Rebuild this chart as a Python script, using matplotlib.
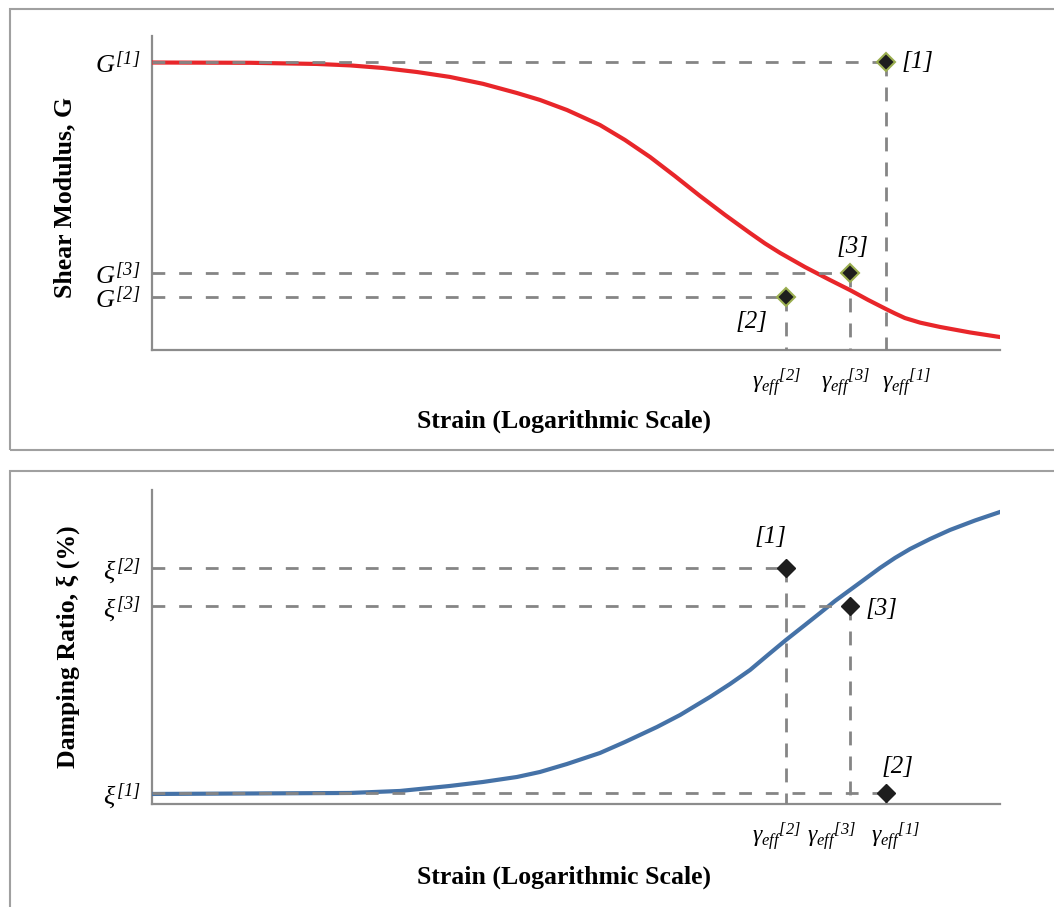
"""Shear modulus reduction and damping ratio curves with effective strain iterations."""

import matplotlib.pyplot as plt
from matplotlib.patches import Rectangle

plt.rcParams['font.family'] = 'serif'
plt.rcParams['font.serif'] = ['Liberation Serif']
plt.rcParams['mathtext.fontset'] = 'custom'
plt.rcParams['mathtext.rm'] = 'Liberation Serif:italic'
plt.rcParams['mathtext.it'] = 'Liberation Serif:italic'
plt.rcParams['mathtext.bf'] = 'Liberation Serif:bold'

COLOR_G = '#e8262a'
COLOR_XI = '#4572a7'
COLOR_GUIDE = '#858585'
COLOR_AXIS = '#8c8c8c'

# strain (%) on a log axis
strain_g = [1e-4, 3.8e-4, 9.4e-4, 1.47e-3, 2.3e-3, 3.65e-3, 5.7e-3, 8.95e-3, 0.0142,
            0.0194, 0.028, 0.0438, 0.0615, 0.0864, 0.121, 0.170, 0.239, 0.336,
            0.411, 0.505, 0.708, 0.994, 1.305, 1.666, 2.13, 2.40, 2.75, 3.38,
            4.43, 6.65, 10.0]
g_ratio = [0.998, 0.997, 0.993, 0.988, 0.979, 0.965, 0.948, 0.924, 0.892,
           0.868, 0.833, 0.781, 0.729, 0.670, 0.604, 0.535, 0.469, 0.406,
           0.370, 0.337, 0.288, 0.243, 0.208, 0.174, 0.142, 0.127, 0.111, 0.095,
           0.080, 0.061, 0.045]

strain_xi = [1e-4, 1.47e-3, 2.9e-3, 5.7e-3, 8.95e-3, 0.0142, 0.0194, 0.028, 0.0438,
             0.0615, 0.095, 0.130, 0.195, 0.256, 0.336, 0.428, 0.547, 0.708,
             0.869, 1.064, 1.305, 1.60, 1.96, 2.40, 2.95, 3.87, 5.07, 7.12, 10.0]
damping = [1.0, 1.1, 1.3, 1.8, 2.2, 2.7, 3.2, 4.0, 5.1,
           6.2, 7.7, 8.9, 10.7, 12.0, 13.4, 14.9, 16.4, 17.9,
           19.1, 20.3, 21.4, 22.5, 23.6, 24.6, 25.5, 26.5, 27.4, 28.35, 29.2]

# effective strains for iterations [1], [2], [3]
gamma_eff = [2.13, 0.547, 1.305]
g_iter = [1.0, 0.184, 0.267]
iter_names = ['[1]', '[2]', '[3]']

# damping points, read at the same three strains
xi_strain = [2.13, 0.547, 1.305]
xi_iter = [1.1, 23.6, 19.8]
xi_names = ['[2]', '[1]', '[3]']

gamma_labels = [r'$\gamma_{eff}{}^{[1]}$', r'$\gamma_{eff}{}^{[2]}$', r'$\gamma_{eff}{}^{[3]}$']

XLIM = (1e-4, 10.0)

fig = plt.figure(figsize=(10.54, 9.07), dpi=100)

# panel frames
fig.add_artist(Rectangle((0.0095, 0.5039), 1.0, 0.4862, transform=fig.transFigure,
                         fill=False, edgecolor='#a0a0a0', linewidth=1.5))
fig.add_artist(Rectangle((0.0095, -0.05), 1.0, 0.5307, transform=fig.transFigure,
                         fill=False, edgecolor='#a0a0a0', linewidth=1.5))

ax1 = fig.add_axes([0.1442, 0.6141, 0.8046, 0.3462])
ax2 = fig.add_axes([0.1442, 0.1136, 0.8046, 0.3462])


def style_axis(ax, ylim):
    ax.set_xscale('log')
    ax.set_xlim(XLIM)
    ax.set_ylim(ylim)
    for s in ['top', 'right']:
        ax.spines[s].set_visible(False)
    for s in ['left', 'bottom']:
        ax.spines[s].set_color(COLOR_AXIS)
        ax.spines[s].set_linewidth(1.6)
    ax.minorticks_off()
    ax.set_xticks([])
    ax.tick_params(axis='y', length=0, labelsize=19, pad=8)


def guides(ax, gx, gy):
    # dashed guides sit on top of the curves
    ax.plot([XLIM[0], gx], [gy, gy], color=COLOR_GUIDE, linewidth=2.0,
            dashes=(4.6, 5.0), zorder=4)
    ax.plot([gx, gx], [gy, 0], color=COLOR_GUIDE, linewidth=2.0,
            dashes=(5.0, 4.0), zorder=4)


def strain_labels(ax, offsets):
    for gx, lab, dx in zip(gamma_eff, gamma_labels, offsets):
        ax.annotate(lab, (gx, 0), xytext=(dx, -24), textcoords='offset points',
                    ha='center', va='center', fontsize=17)


# --- shear modulus ---
style_axis(ax1, (0, 1.09))
for gx, gy in zip(gamma_eff, g_iter):
    guides(ax1, gx, gy)
ax1.plot(strain_g, g_ratio, color=COLOR_G, linewidth=3.0, zorder=3)
ax1.plot(gamma_eff, g_iter, 'D', color='#1e1e1e', markersize=9,
         markeredgecolor='#9bae50', markeredgewidth=1.5, zorder=5)
ax1.set_yticks(g_iter)
ax1.set_yticklabels([r'$G^{[1]}$', r'$G^{[2]}$', r'$G^{[3]}$'])
strain_labels(ax1, [15, -7, -3])
g_offsets = [(11, 0, 'left'), (-13, -18, 'right'), (2, 19, 'center')]
for gx, gy, name, (dx, dy, ha) in zip(gamma_eff, g_iter, iter_names, g_offsets):
    ax1.annotate(name, (gx, gy), xytext=(dx, dy), textcoords='offset points',
                 ha=ha, va='center', fontsize=18, style='italic')

# --- damping ratio ---
style_axis(ax2, (0, 31.4))
for gx, gy in zip(xi_strain, xi_iter):
    guides(ax2, gx, gy)
ax2.plot(strain_xi, damping, color=COLOR_XI, linewidth=3.0, zorder=3)
ax2.plot(xi_strain, xi_iter, 'D', color='#1e1e1e', markersize=9, zorder=5)
ax2.set_yticks(xi_iter)
ax2.set_yticklabels([r'$\xi^{[1]}$', r'$\xi^{[2]}$', r'$\xi^{[3]}$'])
strain_labels(ax2, [7, -7, -13])
xi_offsets = [(8, 19, 'center'), (-11, 22, 'center'), (11, -2, 'left')]
for gx, gy, name, (dx, dy, ha) in zip(xi_strain, xi_iter, xi_names, xi_offsets):
    ax2.annotate(name, (gx, gy), xytext=(dx, dy), textcoords='offset points',
                 ha=ha, va='center', fontsize=18, style='italic')

# axis titles
fig.text(564 / 1054, 1 - 421 / 907, 'Strain (Logarithmic Scale)', ha='center', va='center',
         fontsize=18.5, fontweight='bold')
fig.text(564 / 1054, 1 - 877 / 907, 'Strain (Logarithmic Scale)', ha='center', va='center',
         fontsize=18.5, fontweight='bold')
fig.text(65 / 1054, 1 - 197 / 907, 'Shear Modulus, G', ha='center', va='center',
         rotation=90, fontsize=18.5, fontweight='bold')
fig.text(68 / 1054, 1 - 647 / 907, 'Damping Ratio, ξ (%)', ha='center', va='center',
         rotation=90, fontsize=18.5, fontweight='bold')

fig.savefig('out.png', dpi=100)
